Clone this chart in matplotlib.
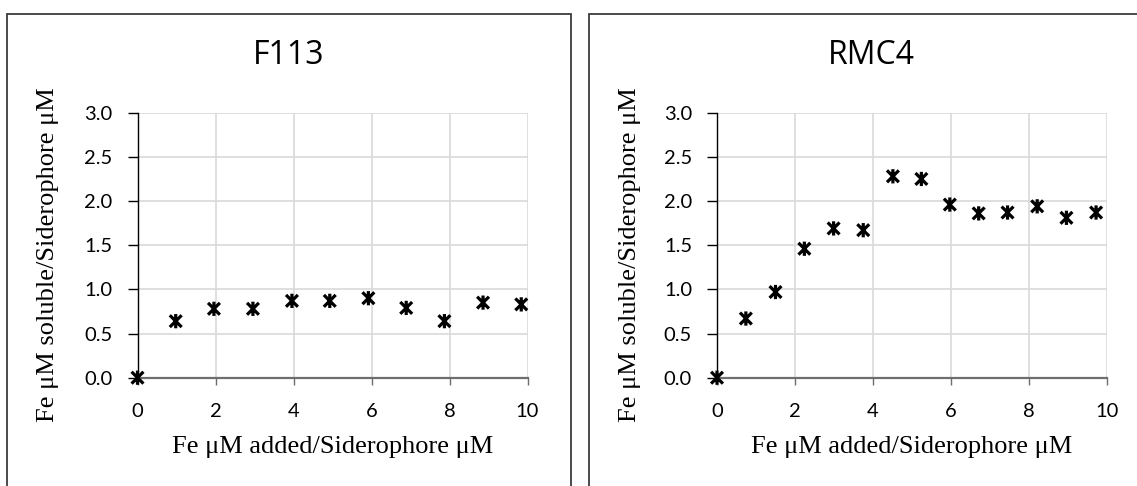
import matplotlib
matplotlib.use("Agg")
import matplotlib.pyplot as plt
from matplotlib.path import Path
from matplotlib.patches import Rectangle

# F113 series
f113_x = [0, 0.98, 1.96, 2.96, 3.96, 4.93, 5.92, 6.89, 7.87, 8.86, 9.84]
f113_y = [0.0, 0.64, 0.78, 0.78, 0.87, 0.87, 0.90, 0.79, 0.64, 0.85, 0.83]

# RMC4 series
rmc4_x = [0, 0.74, 1.50, 2.24, 2.99, 3.75, 4.51, 5.24, 5.97, 6.71, 7.45, 8.21, 8.96, 9.72]
rmc4_y = [0.0, 0.67, 0.97, 1.46, 1.69, 1.67, 2.28, 2.25, 1.96, 1.86, 1.87, 1.94, 1.81, 1.87]

titles = ["F113", "RMC4"]
x_label = "Fe \u03bcM added/Siderophore \u03bcM"
y_label = "Fe \u03bcM soluble/Siderophore \u03bcM"
x_ticks = [0, 2, 4, 6, 8, 10]
y_ticks = [0.0, 0.5, 1.0, 1.5, 2.0, 2.5, 3.0]

W, H = 1137, 486
fig = plt.figure(figsize=(W / 100, H / 100), dpi=100)

# Excel-style star marker: X plus vertical bar
star = Path(
    [(-1, -1), (1, 1), (-1, 1), (1, -1), (0, -1.2), (0, 1.2)],
    [Path.MOVETO, Path.LINETO, Path.MOVETO, Path.LINETO, Path.MOVETO, Path.LINETO],
)

tick_font = "Lato"
label_font = ["Liberation Serif", "DejaVu Serif"]

panels = [
    # panel_left_px, axes_left_px, xs, ys, title
    (7, 137.5, f113_x, f113_y, titles[0]),
    (589, 717, rmc4_x, rmc4_y, titles[1]),
]

ax_w_px = 390
ax_h_px = 377.7 - 112.7
ax_b = 1 - 377.7 / H
panel_w = 564

for p_left, a_left, xs, ys, title in panels:
    # panel frame
    fig.patches.append(Rectangle(
        (p_left / W, -0.1), panel_w / W, (H - 13.5) / H + 0.1,
        transform=fig.transFigure, fill=False, edgecolor="#3c3c3c", linewidth=1.3,
    ))
    fig.text((p_left + panel_w / 2) / W, 1 - 55 / H, title, ha="center", va="center",
             fontsize=23, family="Open Sans", color="#000000")

    ax = fig.add_axes([a_left / W, ax_b, ax_w_px / W, ax_h_px / H])
    ax.scatter(xs, ys, marker=star, s=105, facecolors="none", edgecolors="black",
               linewidths=2.3, zorder=5, clip_on=False)
    ax.set_xlim(0, 10)
    ax.set_ylim(0, 3)
    ax.set_xticks(x_ticks)
    ax.set_yticks(y_ticks)
    ax.set_yticklabels([f"{v:.1f}" for v in y_ticks])
    ax.grid(True, color="#d9d9d9", linewidth=1.2)
    ax.set_axisbelow(True)
    for s in ["top", "right"]:
        ax.spines[s].set_visible(False)
    ax.spines["left"].set_color("black")
    ax.spines["left"].set_linewidth(1.0)
    ax.spines["bottom"].set_color("#6e6e6e")
    ax.spines["bottom"].set_linewidth(1.6)
    ax.tick_params(axis="y", length=7, width=1.0, color="black", pad=11)
    ax.tick_params(axis="x", length=5, width=1.0, color="#6e6e6e", pad=13)
    for lab in ax.get_xticklabels() + ax.get_yticklabels():
        lab.set_fontfamily(tick_font)
        lab.set_fontsize(14.5)
    ax.set_xlabel(x_label, fontsize=19, family=label_font, va="center")
    ax.set_ylabel(y_label, fontsize=19, family=label_font, va="center")
    ax.xaxis.set_label_coords(0.5, -(447 - 377.7) / ax_h_px)
    ax.yaxis.set_label_coords(-(a_left - p_left - 41) / ax_w_px, 0.463)

fig.savefig("out.png", dpi=100)
